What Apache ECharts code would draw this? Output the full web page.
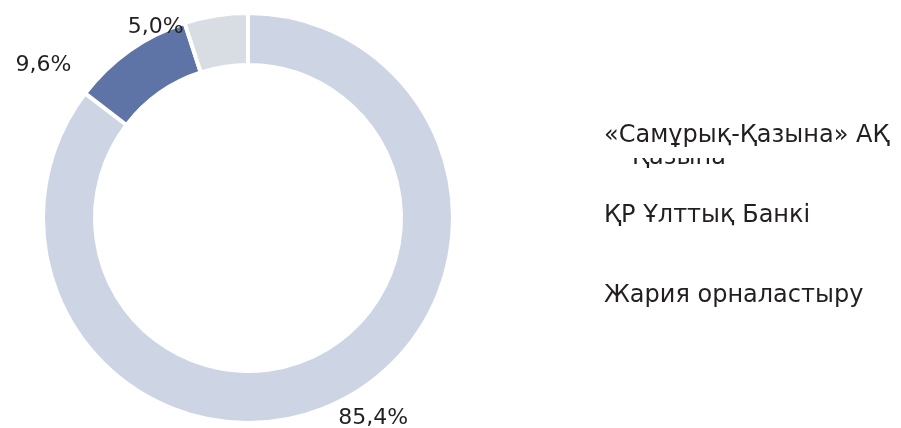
<!DOCTYPE html>
<html>
<head>
<meta charset="utf-8">
<script src="https://cdn.jsdelivr.net/npm/echarts@6/dist/echarts.min.js"></script>
<style>
  html, body { margin: 0; padding: 0; background: #fff; }
  #chart { width: 901px; height: 428px; }
</style>
</head>
<body>
<div id="chart"></div>
<script>
// shareholder structure
var names = ['«Самұрық-Қазына» АҚ', 'ҚР Ұлттық Банкі', 'Жария орналастыру'];
var shares = [85.4, 9.6, 5.0];
var colors = ['#cdd4e4', '#5e74a6', '#d8dde4'];
// second line of the first legend entry, mostly cut off in the original
var wrapText = 'Қазына';

// nudges for the outside labels, by slice
var labelShift = [[-9, 9], [-58, 21], [-26, 15]];

var chartDom = document.getElementById('chart');
var myChart = echarts.init(chartDom);

var font = 'DejaVu Sans, Liberation Sans, Arial, sans-serif';

var option = {
  animation: false,
  color: colors,
  textStyle: { fontFamily: font },
  legend: {
    orient: 'vertical',
    left: 594,
    top: 116,
    icon: 'none',
    itemWidth: 0,
    itemGap: 50,
    selectedMode: false,
    data: names,
    textStyle: {
      fontSize: 24,
      lineHeight: 30,
      color: '#231f20'
    }
  },
  graphic: [
    {
      type: 'group',
      z: 10,
      children: [
        {
          type: 'text',
          x: 632,
          y: 146,
          z: 1,
          style: { text: wrapText, font: '24px ' + font, fill: '#231f20' }
        },
        {
          type: 'rect',
          x: 625,
          y: 146,
          z: 2,
          shape: { width: 130, height: 12 },
          style: { fill: '#fff' }
        }
      ]
    }
  ],
  series: [
    {
      name: 'Акционерлер',
      type: 'pie',
      center: [248, 218],
      radius: [153, 205],
      startAngle: 90,
      clockwise: true,
      itemStyle: {
        borderColor: '#fff',
        borderWidth: 4
      },
      label: {
        show: true,
        position: 'outside',
        fontSize: 22,
        color: '#231f20',
        formatter: function (p) {
          return p.value.toFixed(1).replace('.', ',') + '%';
        }
      },
      labelLine: { show: false, length: 8, length2: 0 },
      labelLayout: function (params) {
        var s = labelShift[params.dataIndex];
        return { dx: s[0], dy: s[1] };
      },
      emphasis: { disabled: true },
      data: names.map(function (n, i) {
        return { name: n, value: shares[i] };
      })
    }
  ]
};

myChart.setOption(option);
</script>
</body>
</html>
